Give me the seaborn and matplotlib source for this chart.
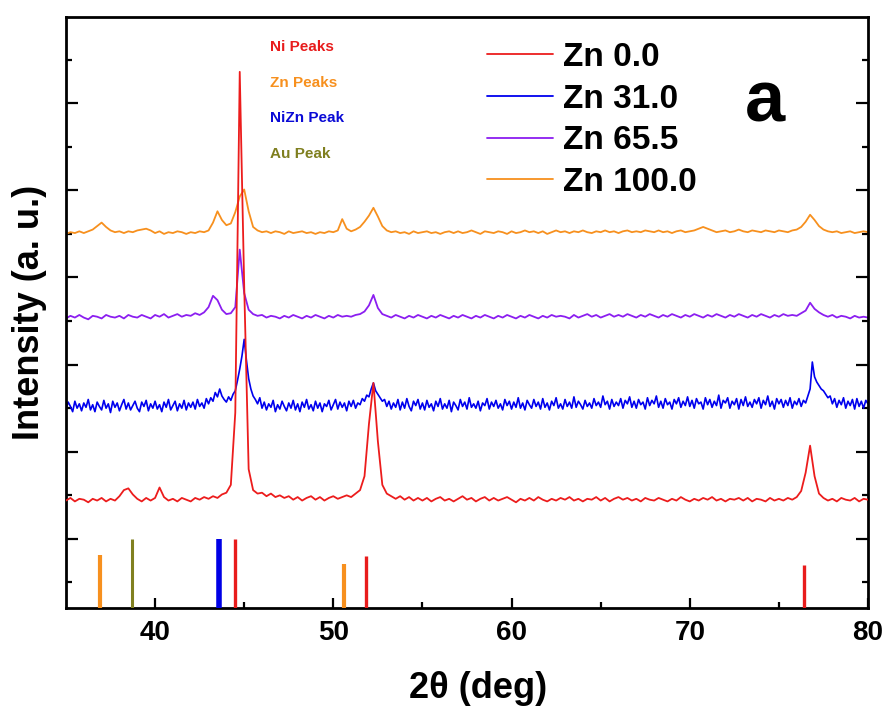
import numpy as np
import pandas as pd
import matplotlib
matplotlib.use("Agg")
import matplotlib.pyplot as plt
import seaborn as sns

# ---------------- data ----------------
two_theta = np.arange(35.0, 80.001, 0.25)        # sampling positions, deg
two_theta_fine = np.arange(35.0, 80.001, 0.125)  # finer sampling for noisy Zn 31.0

zn_0 = [
    0.44, 0.47, 0.43, 0.46,  0.45, 0.42, 0.46, 0.44,  0.47, 0.43, 0.46, 0.44,
    0.49, 0.56, 0.58, 0.51,  0.46, 0.43, 0.47, 0.44,  0.47, 0.59, 0.48, 0.44,
    0.46, 0.43, 0.47, 0.45,  0.43, 0.47, 0.45, 0.48,  0.46, 0.49, 0.47, 0.51,
    0.53, 0.62, 1.45, 5.36,  2.90, 0.80, 0.56, 0.52,  0.53, 0.49, 0.52, 0.48,
    0.50, 0.47, 0.49, 0.45,  0.48, 0.44, 0.47, 0.49,  0.45, 0.48, 0.44, 0.47,
    0.49, 0.46, 0.48, 0.50,  0.48, 0.52, 0.56, 0.72,  1.32, 1.79, 1.12, 0.62,
    0.52, 0.49, 0.46, 0.49,  0.45, 0.48, 0.44, 0.47,  0.44, 0.47, 0.43, 0.46,
    0.48, 0.44, 0.46, 0.43,  0.46, 0.49, 0.45, 0.47,  0.43, 0.46, 0.48, 0.44,
    0.47, 0.44, 0.46, 0.48,  0.45, 0.42, 0.46, 0.44,  0.47, 0.44, 0.48, 0.45,
    0.43, 0.46, 0.44, 0.47,  0.45, 0.48, 0.44, 0.46,  0.43, 0.46, 0.45, 0.48,
    0.44, 0.47, 0.43, 0.46,  0.48, 0.45, 0.47, 0.44,  0.46, 0.43, 0.47, 0.45,
    0.44, 0.47, 0.45, 0.43,  0.46, 0.44, 0.48, 0.45,  0.43, 0.46, 0.44, 0.47,
    0.45, 0.48, 0.44, 0.46,  0.43, 0.46, 0.45, 0.47,  0.44, 0.47, 0.43, 0.46,
    0.45, 0.43, 0.47, 0.44,  0.46, 0.44, 0.47, 0.45,  0.48, 0.55, 0.76, 1.07,
    0.72, 0.52, 0.47, 0.44,  0.46, 0.43, 0.47, 0.45,  0.44, 0.47, 0.43, 0.46,
    0.45,
]

zn_31 = [
    1.49, 1.57, 1.52, 1.46, 1.58, 1.50, 1.55, 1.47,
    1.56, 1.51, 1.60, 1.48, 1.54, 1.46, 1.57, 1.52,
    1.48, 1.59, 1.50, 1.55, 1.45, 1.58, 1.51, 1.56,
    1.47, 1.54, 1.60, 1.49, 1.56, 1.48, 1.53, 1.58,
    1.50, 1.46, 1.57, 1.52, 1.59, 1.47, 1.55, 1.50,
    1.58, 1.49, 1.54, 1.46, 1.57, 1.51, 1.60, 1.48,
    1.53, 1.58, 1.47, 1.55, 1.50, 1.59, 1.48, 1.56,
    1.51, 1.57, 1.49, 1.60, 1.52, 1.56, 1.50, 1.61,
    1.55, 1.62, 1.58, 1.68, 1.63, 1.72, 1.64, 1.60,
    1.57, 1.63, 1.59, 1.66, 1.70, 1.82, 1.95, 2.10,
    2.29, 2.05, 1.84, 1.72, 1.64, 1.60, 1.55, 1.62,
    1.50, 1.57, 1.48, 1.55, 1.51, 1.59, 1.46, 1.54,
    1.49, 1.58, 1.52, 1.47, 1.56, 1.50, 1.59, 1.48,
    1.55, 1.46, 1.57, 1.51, 1.60, 1.49, 1.54, 1.47,
    1.58, 1.50, 1.56, 1.46, 1.55, 1.52, 1.59, 1.48,
    1.54, 1.60, 1.49, 1.57, 1.51, 1.56, 1.47, 1.58,
    1.52, 1.59, 1.50, 1.56, 1.54, 1.61, 1.58, 1.65,
    1.63, 1.72, 1.79, 1.70, 1.66, 1.62, 1.58, 1.60,
    1.52, 1.58, 1.49, 1.56, 1.51, 1.60, 1.48, 1.57,
    1.50, 1.61, 1.52, 1.47, 1.58, 1.53, 1.60, 1.49,
    1.56, 1.48, 1.59, 1.51, 1.55, 1.47, 1.58, 1.52,
    1.61, 1.49, 1.55, 1.50, 1.59, 1.46, 1.57, 1.53,
    1.48, 1.60, 1.52, 1.57, 1.49, 1.62, 1.51, 1.55,
    1.50, 1.58, 1.47, 1.56, 1.53, 1.61, 1.49, 1.57,
    1.52, 1.59, 1.50, 1.55, 1.48, 1.60, 1.53, 1.58,
    1.49, 1.57, 1.51, 1.62, 1.50, 1.56, 1.48, 1.59,
    1.54, 1.50, 1.60, 1.52, 1.57, 1.49, 1.61, 1.51,
    1.56, 1.48, 1.58, 1.53, 1.62, 1.50, 1.55, 1.49,
    1.60, 1.52, 1.57, 1.50, 1.63, 1.51, 1.58, 1.54,
    1.49, 1.59, 1.52, 1.56, 1.50, 1.61, 1.53, 1.57,
    1.51, 1.64, 1.54, 1.58, 1.49, 1.60, 1.52, 1.57,
    1.53, 1.61, 1.50, 1.59, 1.55, 1.63, 1.51, 1.58,
    1.50, 1.60, 1.54, 1.57, 1.49, 1.62, 1.53, 1.59,
    1.55, 1.64, 1.51, 1.58, 1.50, 1.61, 1.54, 1.57,
    1.49, 1.60, 1.55, 1.62, 1.51, 1.58, 1.53, 1.63,
    1.52, 1.59, 1.50, 1.61, 1.55, 1.57, 1.49, 1.62,
    1.54, 1.60, 1.51, 1.58, 1.53, 1.65, 1.50, 1.59,
    1.56, 1.62, 1.50, 1.58, 1.54, 1.61, 1.49, 1.60,
    1.53, 1.63, 1.52, 1.57, 1.51, 1.60, 1.55, 1.62,
    1.50, 1.59, 1.54, 1.64, 1.52, 1.58, 1.49, 1.61,
    1.55, 1.60, 1.51, 1.59, 1.53, 1.62, 1.50, 1.58,
    1.54, 1.61, 1.52, 1.59, 1.56, 1.64, 1.72, 2.03,
    1.86, 1.80, 1.76, 1.72, 1.70, 1.66, 1.62, 1.64,
    1.55, 1.61, 1.51, 1.59, 1.54, 1.62, 1.50, 1.58,
    1.53, 1.60, 1.49, 1.61, 1.52, 1.58, 1.50, 1.59,
    1.55,
]

zn_65 = [
    2.53, 2.56, 2.54, 2.57,  2.54, 2.52, 2.56, 2.55,  2.53, 2.57, 2.55, 2.54,
    2.56, 2.53, 2.57, 2.55,  2.54, 2.57, 2.55, 2.53,  2.57, 2.55, 2.58, 2.54,
    2.56, 2.58, 2.55, 2.57,  2.56, 2.59, 2.57, 2.60,  2.66, 2.79, 2.74, 2.63,
    2.58, 2.59, 2.66, 3.32,  2.82, 2.63, 2.58, 2.56,  2.57, 2.54, 2.56, 2.55,
    2.53, 2.56, 2.54, 2.57,  2.55, 2.53, 2.56, 2.54,  2.57, 2.55, 2.53, 2.56,
    2.54, 2.57, 2.55, 2.56,  2.55, 2.57, 2.58, 2.61,  2.68, 2.80, 2.65, 2.58,
    2.56, 2.54, 2.57, 2.55,  2.53, 2.56, 2.54, 2.57,  2.55, 2.53, 2.56, 2.54,
    2.57, 2.55, 2.53, 2.56,  2.54, 2.57, 2.55, 2.53,  2.56, 2.54, 2.57, 2.55,
    2.53, 2.56, 2.54, 2.57,  2.55, 2.53, 2.56, 2.54,  2.57, 2.55, 2.53, 2.56,
    2.54, 2.57, 2.55, 2.56,  2.55, 2.53, 2.57, 2.54,  2.56, 2.58, 2.55, 2.57,
    2.54, 2.56, 2.58, 2.55,  2.57, 2.55, 2.58, 2.56,  2.54, 2.57, 2.55, 2.58,
    2.56, 2.54, 2.57, 2.55,  2.58, 2.56, 2.54, 2.57,  2.55, 2.58, 2.56, 2.54,
    2.57, 2.55, 2.58, 2.56,  2.54, 2.57, 2.55, 2.58,  2.56, 2.54, 2.57, 2.55,
    2.58, 2.56, 2.54, 2.57,  2.55, 2.58, 2.56, 2.57,  2.56, 2.59, 2.62, 2.71,
    2.64, 2.60, 2.57, 2.55,  2.57, 2.54, 2.56, 2.55,  2.53, 2.56, 2.54, 2.55,
    2.54,
]

zn_100 = [
    3.50, 3.52, 3.51, 3.53,  3.51, 3.53, 3.55, 3.59,  3.63, 3.58, 3.54, 3.52,
    3.53, 3.51, 3.53, 3.52,  3.54, 3.55, 3.56, 3.54,  3.51, 3.53, 3.50, 3.52,
    3.51, 3.53, 3.52, 3.50,  3.52, 3.51, 3.53, 3.52,  3.54, 3.63, 3.76, 3.66,
    3.60, 3.62, 3.75, 3.93,  4.01, 3.76, 3.58, 3.54,  3.52, 3.53, 3.51, 3.53,
    3.52, 3.50, 3.53, 3.51,  3.52, 3.53, 3.51, 3.52,  3.50, 3.52, 3.51, 3.53,
    3.52, 3.54, 3.67, 3.56,  3.53, 3.55, 3.58, 3.64,  3.71, 3.80, 3.70, 3.59,
    3.54, 3.52, 3.53, 3.51,  3.52, 3.50, 3.53, 3.51,  3.52, 3.53, 3.51, 3.52,
    3.50, 3.52, 3.53, 3.51,  3.53, 3.51, 3.52, 3.54,  3.52, 3.50, 3.53, 3.52,
    3.51, 3.53, 3.52, 3.50,  3.53, 3.51, 3.52, 3.54,  3.52, 3.53, 3.51, 3.53,
    3.50, 3.52, 3.54, 3.52,  3.53, 3.51, 3.53, 3.52,  3.54, 3.52, 3.51, 3.53,
    3.52, 3.54, 3.52, 3.53,  3.51, 3.53, 3.54, 3.52,  3.53, 3.52, 3.54, 3.53,
    3.52, 3.54, 3.52, 3.53,  3.51, 3.53, 3.54, 3.52,  3.53, 3.54, 3.56, 3.58,
    3.56, 3.54, 3.52, 3.53,  3.54, 3.52, 3.53, 3.55,  3.53, 3.52, 3.54, 3.53,
    3.52, 3.54, 3.53, 3.52,  3.54, 3.53, 3.52, 3.54,  3.55, 3.58, 3.64, 3.72,
    3.66, 3.59, 3.55, 3.53,  3.52, 3.53, 3.51, 3.52,  3.53, 3.51, 3.52, 3.53,
    3.52,
]

series_names = ["Zn 0.0", "Zn 31.0", "Zn 65.5", "Zn 100.0"]
series_colors = ["#ec1c1c", "#0000ee", "#8b1ef0", "#f7901e"]

# reference peak sticks
stick_pos = [36.9, 38.7, 43.6, 44.5, 50.6, 51.85, 76.4]
stick_top = [-0.18, 0.0, 0.0, 0.0, -0.29, -0.20, -0.30]
stick_color = ["#f7901e", "#808020", "#0000e6", "#e81c1c", "#f7901e", "#e81c1c", "#e81c1c"]
stick_width = [3.0, 2.2, 4.0, 2.4, 3.0, 2.4, 2.4]

peak_labels = ["Ni Peaks", "Zn Peaks", "NiZn Peak", "Au Peak"]
peak_label_colors = ["#e81c1c", "#f7901e", "#0a0ad6", "#7f7f1f"]

x_major = [40, 50, 60, 70, 80]
x_minor = [45, 55, 65, 75]

# ---------------- build table ----------------
frames = []
for name, xs, vals in zip(series_names,
                          [two_theta, two_theta_fine, two_theta, two_theta],
                          [zn_0, zn_31, zn_65, zn_100]):
    frames.append(pd.DataFrame({"2theta": xs, "I": vals, "Sample": name}))
df = pd.concat(frames, ignore_index=True)

# ---------------- plot ----------------
sns.set_theme(style="white")
plt.rcParams["font.family"] = ["Liberation Sans", "DejaVu Sans"]
for key in ["text.color", "axes.labelcolor", "xtick.color", "ytick.color", "axes.edgecolor"]:
    plt.rcParams[key] = "black"

fig = plt.figure(figsize=(8.89, 7.19), dpi=100)
ax = fig.add_axes([0.0742, 0.1544, 0.9022, 0.8220])

sns.lineplot(data=df, x="2theta", y="I", hue="Sample", hue_order=series_names,
             palette=dict(zip(series_names, series_colors)), estimator=None,
             sort=False, lw=1.3, ax=ax, legend=True)

lines = ax.get_lines()[:4]
lines[0].set_zorder(4)
lines[1].set_linewidth(1.2)

ax.vlines(stick_pos, -0.8, stick_top, colors=stick_color, linewidths=stick_width, zorder=3)

ax.set_xlim(35, 80)
ax.set_ylim(-0.793, 5.99)
ax.set_xticks(x_major)
ax.set_xticks(x_minor, minor=True)
ax.set_yticks(list(range(0, 6)))
ax.set_yticks([-0.5, 0.5, 1.5, 2.5, 3.5, 4.5, 5.5], minor=True)
ax.set_yticklabels([])
ax.set_xlabel("")
ax.set_ylabel("")

ax.tick_params(axis="x", which="major", direction="in", length=7.5, width=1.6,
               bottom=True, top=False, labelsize=20, pad=9, colors="black")
ax.tick_params(axis="x", which="minor", direction="in", length=4, width=1.6,
               bottom=True, top=False)
ax.tick_params(axis="y", which="major", direction="in", length=8.5, width=1.6,
               left=True, right=True, labelleft=False)
ax.tick_params(axis="y", which="minor", direction="in", length=4, width=1.6,
               left=True, right=True)
for lab in ax.get_xticklabels():
    lab.set_fontweight("bold")

for s in ax.spines.values():
    s.set_linewidth(2.0)
    s.set_color("black")
    s.set_visible(True)

# legend
handles, labels = ax.get_legend_handles_labels()
leg = ax.legend(handles[:4], labels[:4], loc="upper left",
                bbox_to_anchor=(487 / 889, 1 - 42 / 719), bbox_transform=fig.transFigure,
                frameon=False, prop=dict(weight="bold", size=24),
                handlelength=1.98, handletextpad=0.3, labelspacing=0.32,
                borderpad=0, borderaxespad=0)
for t in leg.get_texts():
    t.set_color("black")

# peak labels
for i, (t, c) in enumerate(zip(peak_labels, peak_label_colors)):
    fig.text(270 / 889, 1 - (47 + 35.7 * i) / 719, t, color=c, fontsize=11,
             fontweight="bold", ha="left", va="center")

fig.text(765 / 889, 1 - 122 / 719, "a", fontsize=52, fontweight="bold",
         ha="center", va="baseline", color="black")

fig.text(478 / 889, 1 - 688 / 719, "2θ (deg)", fontsize=26, fontweight="bold",
         ha="center", va="center", color="black")
fig.text(30 / 889, 1 - 312 / 719, "Intensity (a. u.)", fontsize=26, fontweight="bold",
         ha="center", va="center", rotation=90, color="black")

fig.savefig("out.png", dpi=100, facecolor="white")
